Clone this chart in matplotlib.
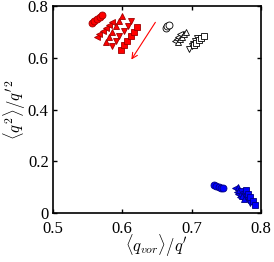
import numpy as np
import matplotlib
matplotlib.use('Agg')
import matplotlib.pyplot as plt

plt.rcParams['font.family'] = ['Liberation Serif', 'DejaVu Serif']
plt.rcParams['mathtext.fontset'] = 'cm'

markers = ['o', '<', '^', 'v', 's']

# red group (one row of points per marker)
red_x = [[0.556, 0.560, 0.564, 0.568, 0.571],
         [0.563, 0.567, 0.572, 0.576, 0.581, 0.585],
         [0.576, 0.581, 0.586, 0.591, 0.596, 0.600],
         [0.585, 0.591, 0.596, 0.602, 0.608, 0.613],
         [0.598, 0.603, 0.607, 0.612, 0.617, 0.621]]
red_y = [[0.733, 0.741, 0.749, 0.757, 0.765],
         [0.681, 0.692, 0.704, 0.715, 0.727, 0.738],
         [0.661, 0.681, 0.701, 0.721, 0.741, 0.761],
         [0.645, 0.664, 0.684, 0.703, 0.723, 0.742],
         [0.630, 0.648, 0.666, 0.683, 0.701, 0.719]]

# black (open) group
blk_x = [[0.663, 0.665, 0.667],
         [0.676, 0.679, 0.681, 0.684],
         [0.680, 0.683, 0.686, 0.689, 0.692],
         [0.697, 0.700, 0.702, 0.705, 0.708],
         [0.703, 0.707, 0.711, 0.714, 0.718]]
blk_y = [[0.715, 0.721, 0.727],
         [0.665, 0.673, 0.682, 0.690],
         [0.662, 0.672, 0.681, 0.691, 0.700],
         [0.635, 0.645, 0.655, 0.665, 0.675],
         [0.650, 0.659, 0.668, 0.676, 0.685]]

# blue group
blu_x = [[0.733, 0.736, 0.740, 0.743, 0.746],
         [0.763, 0.765, 0.767, 0.770],
         [0.767, 0.769, 0.771, 0.773, 0.775],
         [0.772, 0.775, 0.779, 0.782, 0.785],
         [0.778, 0.781, 0.785, 0.789, 0.792]]
blu_y = [[0.108, 0.105, 0.102, 0.098, 0.095],
         [0.095, 0.083, 0.072, 0.060],
         [0.100, 0.089, 0.078, 0.066, 0.055],
         [0.085, 0.074, 0.062, 0.051, 0.040],
         [0.090, 0.075, 0.060, 0.045, 0.030]]

fig = plt.figure(figsize=(2.74, 2.62), dpi=100)
ax = fig.add_axes([0.193, 0.187, 0.759, 0.790])

for i in range(5):
    ax.plot(red_x[i], red_y[i], markers[i], ms=5, mfc='r', mec='#a00000', mew=0.6)
    ax.plot(blk_x[i], blk_y[i], markers[i], ms=5, mfc='w', mec='k', mew=0.6)
    ax.plot(blu_x[i], blu_y[i], markers[i], ms=5, mfc='b', mec='#000080', mew=0.6)

# arrow showing direction
ax.annotate('', xy=(0.611, 0.584), xytext=(0.650, 0.746),
            arrowprops=dict(arrowstyle='->', color='r', lw=0.8))

ax.set_xlim(0.5, 0.8)
ax.set_ylim(0, 0.8)
ax.set_xticks([0.5, 0.6, 0.7, 0.8])
ax.set_xticklabels(['0.5', '0.6', '0.7', '0.8'])
ax.set_yticks([0, 0.2, 0.4, 0.6, 0.8])
ax.set_yticklabels(['0', '0.2', '0.4', '0.6', '0.8'])
ax.tick_params(direction='in', top=True, right=True, labelsize=12, length=3, width=1)
ax.tick_params(axis='x', pad=6)
ax.tick_params(axis='y', pad=3)
for s in ax.spines.values():
    s.set_linewidth(1.2)
ax.set_xlabel(r"$\langle q_{vor}\rangle/q'$", fontsize=12, labelpad=-3)
ax.set_ylabel(r"$\langle q^2\rangle/q'^2$", fontsize=12, labelpad=0)

fig.savefig('out.png', dpi=100)
